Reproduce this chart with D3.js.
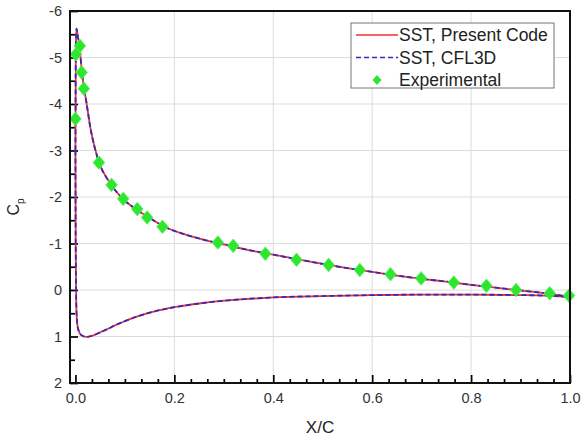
<!DOCTYPE html>
<html lang="en">
<head>
<meta charset="utf-8">
<title>Cp distribution</title>
<style>
body { margin:0; background:#fff; }
svg { display:block; font-family:"Liberation Sans", Arial, sans-serif; }
.axis text { font-size:14.5px; fill:#333; }
.axis line { stroke:#000; stroke-width:1.7px; }
.axis .domain { display:none; }
.grid line { stroke:#dcdcdc; stroke-width:1px; }
</style>
</head>
<body>
<svg width="581" height="441"></svg>
<script src="https://cdn.jsdelivr.net/npm/d3@7"></script>
<script>

// computed Cp, upper surface (leading edge -> trailing edge)
var upperX  = [0, 0.0008, 0.002, 0.005, 0.009, 0.0125, 0.017, 0.022, 0.03, 0.04, 0.05, 0.065, 0.08, 0.1, 0.125, 0.15, 0.18, 0.22, 0.26, 0.3, 0.35, 0.4, 0.45, 0.5, 0.55, 0.6, 0.65, 0.7, 0.75, 0.8, 0.85, 0.9, 0.95, 1.0];
var upperCp = [-3.0, -5.2, -5.62, -5.45, -5.15, -4.75, -4.37, -4.05, -3.5, -3.02, -2.68, -2.38, -2.15, -1.92, -1.72, -1.55, -1.36, -1.2, -1.08, -0.98, -0.86, -0.76, -0.66, -0.56, -0.47, -0.39, -0.31, -0.24, -0.18, -0.11, -0.05, 0.01, 0.07, 0.15];

// computed Cp, lower surface (leading edge -> trailing edge)
var lowerX  = [0, 0.0005, 0.0015, 0.003, 0.006, 0.012, 0.022, 0.035, 0.05, 0.065, 0.08, 0.1, 0.13, 0.16, 0.2, 0.25, 0.3, 0.35, 0.4, 0.5, 0.6, 0.7, 0.8, 0.9, 0.95, 1.0];
var lowerCp = [-3.0, -1.0, 0.2, 0.65, 0.86, 0.97, 1.01, 0.98, 0.91, 0.84, 0.76, 0.67, 0.55, 0.46, 0.37, 0.29, 0.23, 0.19, 0.16, 0.13, 0.11, 0.1, 0.1, 0.11, 0.12, 0.15];

// CFL3D results lie on top of the present code's results
var cflUpperX = upperX, cflUpperCp = upperCp;
var cflLowerX = lowerX, cflLowerCp = lowerCp;

// experimental data
var expX  = [0.0, 0.001, 0.009, 0.0125, 0.017, 0.0475, 0.073, 0.0966, 0.125, 0.145, 0.176, 0.288, 0.319, 0.384, 0.447, 0.512, 0.575, 0.637, 0.699, 0.765, 0.831, 0.891, 0.959, 0.998];
var expCp = [-3.68, -5.07, -5.25, -4.68, -4.33, -2.74, -2.26, -1.96, -1.74, -1.56, -1.36, -1.02, -0.95, -0.78, -0.65, -0.54, -0.43, -0.34, -0.25, -0.16, -0.09, 0.0, 0.07, 0.12];

var xTicks = [0, 0.2, 0.4, 0.6, 0.8, 1.0];
var xTickLabels = ["0.0", "0.2", "0.4", "0.6", "0.8", "1.0"];
var yTicks = [-6, -5, -4, -3, -2, -1, 0, 1, 2];
var yTickLabels = ["-6", "-5", "-4", "-3", "-2", "-1", "0", "1", "2"];

var seriesNames = ["SST, Present Code", "SST, CFL3D", "Experimental"];

function drawGraphic() {
	var svg = d3.select("svg");
	var m = {left: 70, right: 570, top: 11, bottom: 383};

	var x = d3.scaleLinear().domain([-0.011, 1.0]).range([m.left, m.right]);
	var y = d3.scaleLinear().domain([-6, 2]).range([m.top, m.bottom]);

	// grid
	var grid = svg.append("g").attr("class", "grid");
	grid.selectAll(".gx").data(xTicks.slice(1, -1)).enter().append("line")
		.attr("x1", function(d) { return x(d); }).attr("x2", function(d) { return x(d); })
		.attr("y1", m.top).attr("y2", m.bottom);
	grid.selectAll(".gy").data(yTicks.slice(1, -1)).enter().append("line")
		.attr("x1", m.left).attr("x2", m.right)
		.attr("y1", function(d) { return y(d); }).attr("y2", function(d) { return y(d); });

	// minor ticks
	var xMinor = d3.range(0, 1.0001, 1 / 30).filter(function(v) { return Math.abs(v * 5 - Math.round(v * 5)) > 1e-6; });
	var yMinor = d3.range(-5.5, 2, 1);

	svg.append("g").attr("class", "axis")
		.attr("transform", "translate(0," + m.bottom + ")")
		.call(d3.axisBottom(x).tickValues(xMinor).tickSize(-4).tickFormat(""));
	svg.append("g").attr("class", "axis")
		.attr("transform", "translate(" + m.left + ",0)")
		.call(d3.axisLeft(y).tickValues(yMinor).tickSize(-5).tickFormat(""));

	// major ticks + labels
	svg.append("g").attr("class", "axis")
		.attr("transform", "translate(0," + m.bottom + ")")
		.call(d3.axisBottom(x).tickValues(xTicks).tickSize(-8).tickPadding(10)
			.tickFormat(function(d, i) { return xTickLabels[i]; }));
	svg.append("g").attr("class", "axis")
		.attr("transform", "translate(" + m.left + ",0)")
		.call(d3.axisLeft(y).tickValues(yTicks).tickSize(-8).tickPadding(8)
			.tickFormat(function(d, i) { return yTickLabels[i]; }));

	// curves
	var line = d3.line()
		.x(function(d) { return x(d[0]); })
		.y(function(d) { return y(d[1]); })
		.curve(d3.curveMonotoneX);

	function pairs(xs, ys) { return xs.map(function(v, i) { return [v, ys[i]]; }); }

	[pairs(upperX, upperCp), pairs(lowerX, lowerCp)].forEach(function(p) {
		svg.append("path").attr("d", line(p))
			.attr("fill", "none").attr("stroke", "#f03030").attr("stroke-width", 1.8);
	});
	[pairs(cflUpperX, cflUpperCp), pairs(cflLowerX, cflLowerCp)].forEach(function(p) {
		svg.append("path").attr("d", line(p))
			.attr("fill", "none").attr("stroke", "#2c2cc0").attr("stroke-width", 1.8)
			.attr("stroke-dasharray", "5,3");
	});

	// experimental diamonds
	var diamond = "M0,-6.8L5.8,0L0,6.8L-5.8,0Z";
	svg.append("g").selectAll("path").data(pairs(expX, expCp)).enter().append("path")
		.attr("d", diamond)
		.attr("transform", function(d) { return "translate(" + x(d[0]) + "," + y(d[1]) + ")"; })
		.attr("fill", "#2ee62e").attr("stroke", "#5cf05c").attr("stroke-width", 0.8);

	// frame
	svg.append("rect")
		.attr("x", m.left).attr("y", m.top).attr("width", m.right - m.left).attr("height", m.bottom - m.top)
		.attr("fill", "none").attr("stroke", "#111").attr("stroke-width", 2);

	// axis titles
	svg.append("text").attr("x", (m.left + m.right) / 2).attr("y", 433)
		.attr("text-anchor", "middle").attr("font-size", 17).attr("fill", "#222").text("X/C");

	var yt = svg.append("text").attr("transform", "translate(19,207) rotate(-90)")
		.attr("text-anchor", "middle").attr("font-size", 16).attr("fill", "#222");
	yt.append("tspan").text("C");
	yt.append("tspan").attr("font-size", 10).attr("dy", 5).text("p");

	// legend
	var lg = svg.append("g").attr("transform", "translate(351,23)");
	lg.append("rect").attr("width", 203).attr("height", 65)
		.attr("fill", "#fff").attr("stroke", "#777").attr("stroke-width", 1);

	var rows = [12, 34.5, 57];
	lg.append("line").attr("x1", 5).attr("x2", 47).attr("y1", rows[0]).attr("y2", rows[0])
		.attr("stroke", "#f03030").attr("stroke-width", 1.6);
	lg.append("line").attr("x1", 5).attr("x2", 47).attr("y1", rows[1]).attr("y2", rows[1])
		.attr("stroke", "#2c2cc0").attr("stroke-width", 1.6).attr("stroke-dasharray", "5,3");
	lg.append("path").attr("d", "M0,-5L4.5,0L0,5L-4.5,0Z")
		.attr("transform", "translate(26," + rows[2] + ")").attr("fill", "#2ee62e");

	lg.selectAll("text.lab").data(seriesNames).enter().append("text")
		.attr("class", "lab")
		.attr("x", 48).attr("y", function(d, i) { return rows[i] + 6; })
		.attr("font-size", 17.5).attr("fill", "#222")
		.text(function(d) { return d; });
}

drawGraphic();

</script>
</body>
</html>
